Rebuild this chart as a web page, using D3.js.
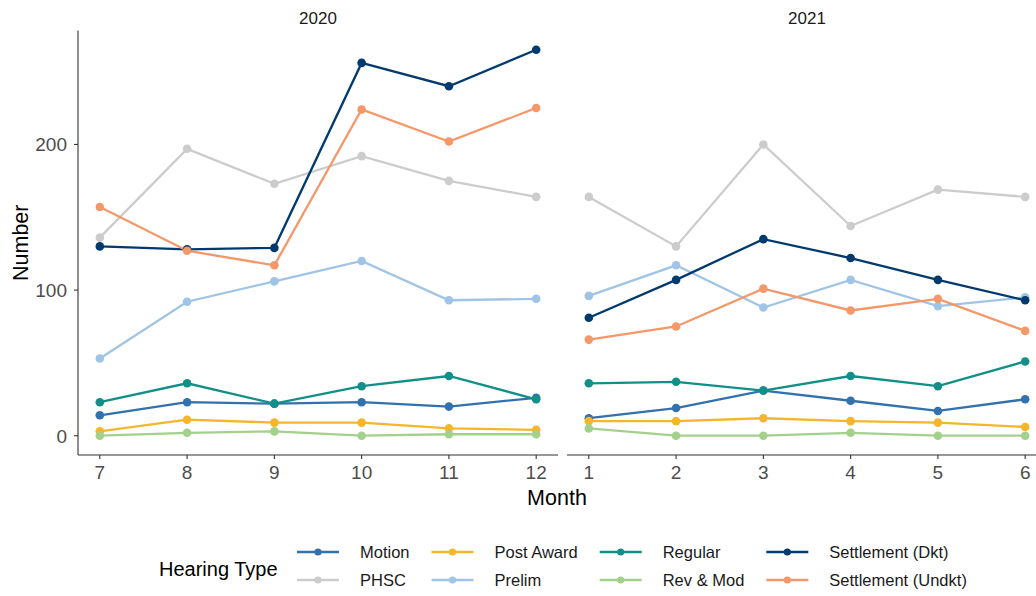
<!doctype html>
<html lang="en">
  <head>
    <meta charset="UTF-8" />
    <title>Hearings by month</title>
    <script src="https://d3js.org/d3.v7.min.js"></script>
    <style>
      body {
        margin: 0;
        background: #fff;
        font-family: Arial, 'Liberation Sans', sans-serif;
      }
      .tick-label {
        font-size: 19px;
        fill: #4d4d4d;
      }
      .axis-title {
        font-size: 21.5px;
        fill: #000;
      }
      .strip {
        font-size: 17px;
        fill: #1a1a1a;
      }
      .legend-title {
        font-size: 20px;
        fill: #000;
      }
      .legend-text {
        font-size: 16.5px;
        fill: #1a1a1a;
      }
    </style>
  </head>
  <body>
    <svg id="chart"></svg>
    <script>
      // data
      const years = ['2020', '2021']
      const months2020 = [7, 8, 9, 10, 11, 12]
      const months2021 = [1, 2, 3, 4, 5, 6]
      const yTicks = [0, 100, 200]

      const hearingTypes = [
        'Motion',
        'PHSC',
        'Post Award',
        'Prelim',
        'Regular',
        'Rev & Mod',
        'Settlement (Dkt)',
        'Settlement (Undkt)',
      ]

      const motion2020 = [14, 23, 22, 23, 20, 26]
      const motion2021 = [12, 19, 31, 24, 17, 25]
      const phsc2020 = [136, 197, 173, 192, 175, 164]
      const phsc2021 = [164, 130, 200, 144, 169, 164]
      const postAward2020 = [3, 11, 9, 9, 5, 4]
      const postAward2021 = [10, 10, 12, 10, 9, 6]
      const prelim2020 = [53, 92, 106, 120, 93, 94]
      const prelim2021 = [96, 117, 88, 107, 89, 95]
      const regular2020 = [23, 36, 22, 34, 41, 25]
      const regular2021 = [36, 37, 31, 41, 34, 51]
      const revMod2020 = [0, 2, 3, 0, 1, 1]
      const revMod2021 = [5, 0, 0, 2, 0, 0]
      const settleDkt2020 = [130, 128, 129, 256, 240, 265]
      const settleDkt2021 = [81, 107, 135, 122, 107, 93]
      const settleUndkt2020 = [157, 127, 117, 224, 202, 225]
      const settleUndkt2021 = [66, 75, 101, 86, 94, 72]

      const colors = [
        '#3271ad',
        '#cccccc',
        '#f6b62b',
        '#a0c4e6',
        '#118f88',
        '#a3d18c',
        '#023a6d',
        '#f59869',
      ]

      const values = {
        2020: [motion2020, phsc2020, postAward2020, prelim2020, regular2020, revMod2020, settleDkt2020, settleUndkt2020],
        2021: [motion2021, phsc2021, postAward2021, prelim2021, regular2021, revMod2021, settleDkt2021, settleUndkt2021],
      }
      const monthsByYear = { 2020: months2020, 2021: months2021 }

      const W = 1036
      const H = 596
      const svg = d3.select('#chart').attr('width', W).attr('height', H)

      // panels (facet_wrap style, second panel runs off the right edge)
      const panelTop = 30.5
      const panelBottom = 455
      const panels = [
        { year: '2020', x0: 78, x1: 558 },
        { year: '2021', x0: 567, x1: 1047 },
      ]

      const allVals = years.flatMap((y) => values[y].flat())
      const [vMin, vMax] = d3.extent(allVals)
      const pad = (vMax - vMin) * 0.05
      const y = d3.scaleLinear().domain([vMin - pad, vMax + pad]).range([panelBottom, panelTop])

      const line = d3
        .line()
        .x((d) => d.x)
        .y((d) => d.y)

      panels.forEach((p, pi) => {
        const months = monthsByYear[p.year]
        const mPad = (d3.max(months) - d3.min(months)) * 0.05
        const x = d3
          .scaleLinear()
          .domain([d3.min(months) - mPad, d3.max(months) + mPad])
          .range([p.x0, p.x1])

        const g = svg.append('g')

        // strip label
        g.append('text')
          .attr('class', 'strip')
          .attr('x', (p.x0 + p.x1) / 2)
          .attr('y', 24)
          .attr('text-anchor', 'middle')
          .text(p.year)

        // x axis
        const xAxis = g.append('g').attr('transform', `translate(0,${panelBottom})`)
        xAxis
          .append('line')
          .attr('x1', p.x0)
          .attr('x2', p.x1)
          .attr('stroke', '#333')
          .attr('stroke-width', 1.1)
        xAxis
          .selectAll('.xt')
          .data(months)
          .enter()
          .append('line')
          .attr('x1', (d) => x(d))
          .attr('x2', (d) => x(d))
          .attr('y1', 0)
          .attr('y2', 4)
          .attr('stroke', '#333')
          .attr('stroke-width', 1.1)
        xAxis
          .selectAll('.xl')
          .data(months)
          .enter()
          .append('text')
          .attr('class', 'tick-label')
          .attr('x', (d) => x(d))
          .attr('y', 24)
          .attr('text-anchor', 'middle')
          .text((d) => d)

        // y axis only on first panel
        if (pi === 0) {
          const yAxis = g.append('g').attr('transform', `translate(${p.x0},0)`)
          yAxis
            .append('line')
            .attr('y1', panelTop)
            .attr('y2', panelBottom)
            .attr('stroke', '#333')
            .attr('stroke-width', 1.1)
          yAxis
            .selectAll('.yt')
            .data(yTicks)
            .enter()
            .append('line')
            .attr('x1', -4)
            .attr('x2', 0)
            .attr('y1', (d) => y(d))
            .attr('y2', (d) => y(d))
            .attr('stroke', '#333')
            .attr('stroke-width', 1.1)
          yAxis
            .selectAll('.yl')
            .data(yTicks)
            .enter()
            .append('text')
            .attr('class', 'tick-label')
            .attr('x', -11)
            .attr('y', (d) => y(d))
            .attr('dy', '0.36em')
            .attr('text-anchor', 'end')
            .text((d) => d)
        }

        const series = hearingTypes.map((t, i) => ({
          type: t,
          color: colors[i],
          pts: values[p.year][i].map((v, j) => ({ x: x(months[j]), y: y(v) })),
        }))

        // all lines first, then all points (ggplot layer order)
        g.selectAll('.series-line')
          .data(series)
          .enter()
          .append('path')
          .attr('d', (d) => line(d.pts))
          .attr('fill', 'none')
          .attr('stroke', (d) => d.color)
          .attr('stroke-width', 2.3)

        series.forEach((s) => {
          g.selectAll(null)
            .data(s.pts)
            .enter()
            .append('circle')
            .attr('cx', (d) => d.x)
            .attr('cy', (d) => d.y)
            .attr('r', 4.3)
            .attr('fill', s.color)
        })
      })

      // axis titles
      svg
        .append('text')
        .attr('class', 'axis-title')
        .attr('x', (panels[0].x0 + 1036) / 2)
        .attr('y', 505)
        .attr('text-anchor', 'middle')
        .text('Month')

      svg
        .append('text')
        .attr('class', 'axis-title')
        .attr('transform', `translate(28,${(panelTop + panelBottom) / 2}) rotate(-90)`)
        .attr('text-anchor', 'middle')
        .text('Number')

      // legend: 2 rows, filled column by column
      const legend = svg.append('g')
      legend
        .append('text')
        .attr('class', 'legend-title')
        .attr('x', 159)
        .attr('y', 576)
        .text('Hearing Type')

      const rowY = [552, 580]
      let keyX = 297
      for (let c = 0; c < hearingTypes.length / 2; c++) {
        let maxW = 0
        for (let r = 0; r < 2; r++) {
          const i = c * 2 + r
          legend
            .append('line')
            .attr('x1', keyX)
            .attr('x2', keyX + 42)
            .attr('y1', rowY[r])
            .attr('y2', rowY[r])
            .attr('stroke', colors[i])
            .attr('stroke-width', 2.4)
          legend
            .append('circle')
            .attr('cx', keyX + 21)
            .attr('cy', rowY[r])
            .attr('r', 3.6)
            .attr('fill', colors[i])
          const t = legend
            .append('text')
            .attr('class', 'legend-text')
            .attr('x', keyX + 63)
            .attr('y', rowY[r] + 5.8)
            .text(hearingTypes[i])
          maxW = Math.max(maxW, t.node().getComputedTextLength())
        }
        keyX = keyX + 63 + maxW + 22
      }
    </script>
  </body>
</html>
